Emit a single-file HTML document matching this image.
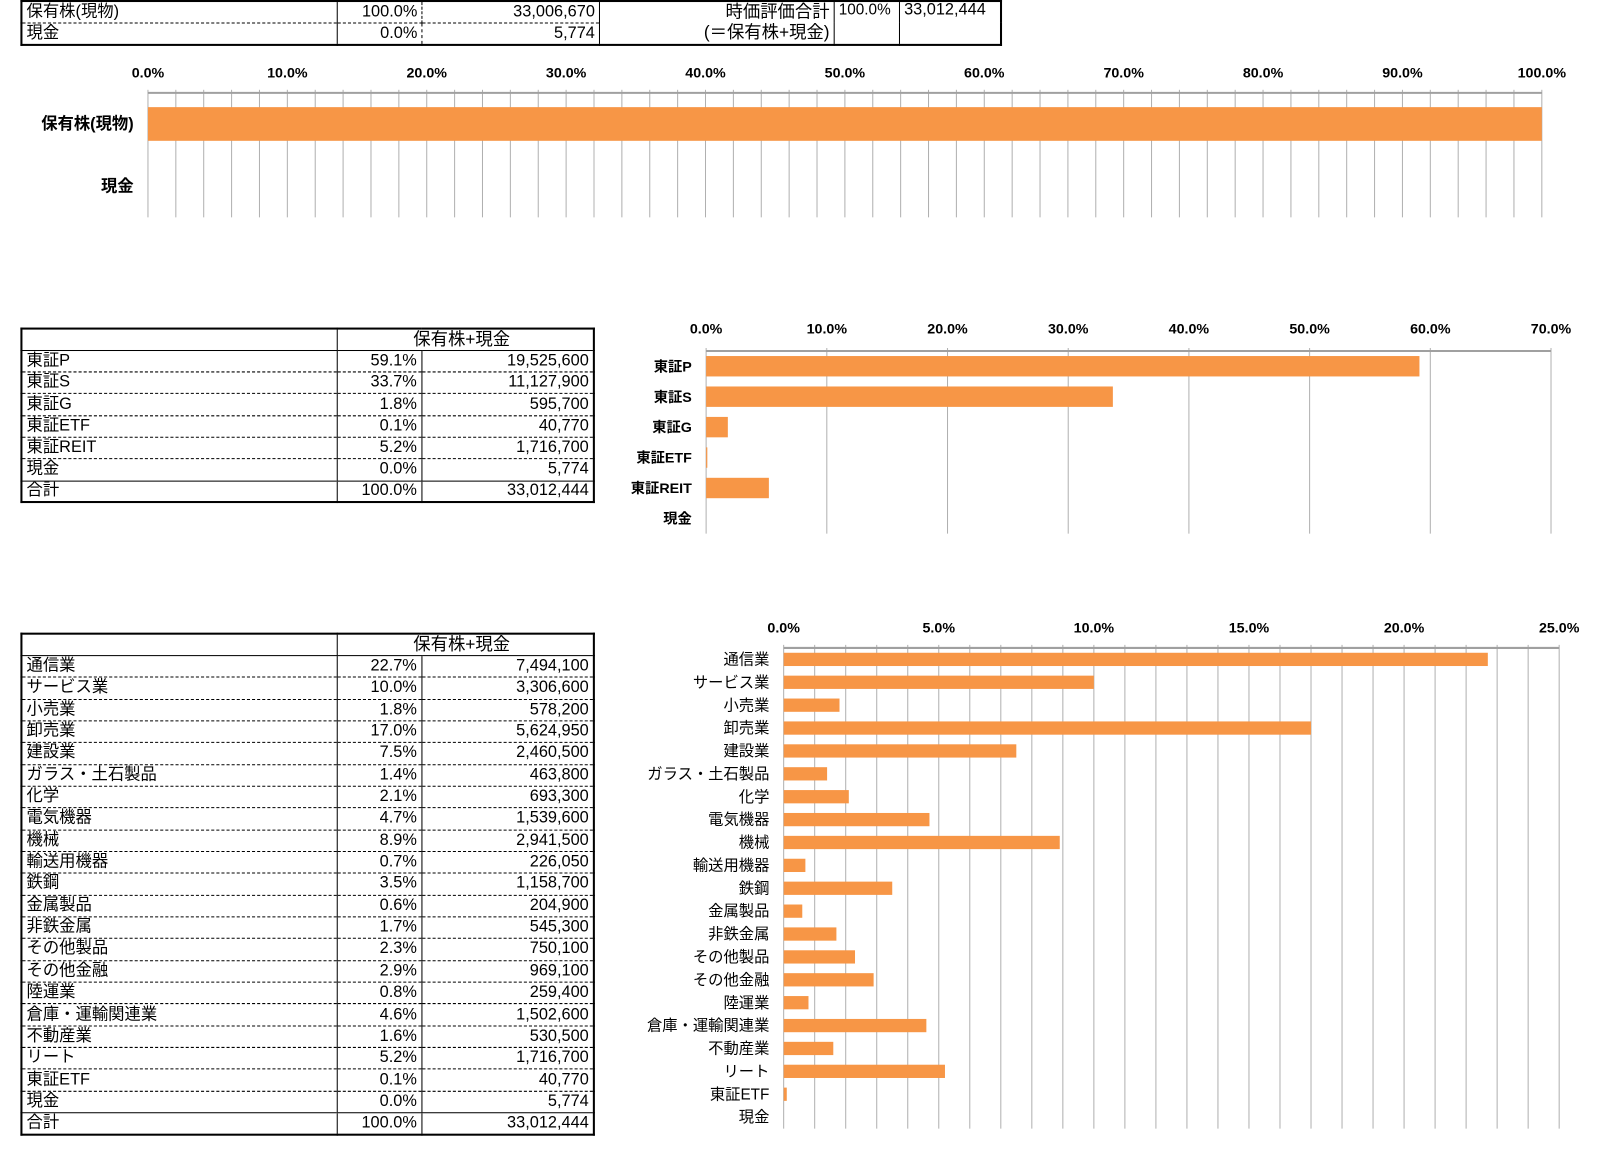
<!DOCTYPE html>
<html><head><meta charset="utf-8">
<style>
body{margin:0;width:1600px;height:1159px;background:#fff;position:relative;overflow:hidden;font-family:"Liberation Sans","Noto Sans CJK JP",sans-serif;}
#wrap{position:absolute;left:0;top:0;width:1568px;height:1136px;transform:scale(1.0204);transform-origin:0 0;}
table{position:absolute;border-collapse:collapse;font-size:16px;color:#000;table-layout:fixed}
td{padding:0 4px;line-height:1;white-space:nowrap;overflow:hidden}
.r{text-align:right}
svg{position:absolute;left:0;top:0}
</style></head><body>
<div id="wrap">
<table style="left:20px;top:0;width:962px;border:2px solid #000">
<tr style="height:19.5px"><td style="width:300px;border-bottom:1px dashed #000">保有株(現物)</td><td class="r" style="width:74px;border-left:1px solid #000;border-right:1px dashed #000;border-bottom:1px dashed #000">100.0%</td><td class="r" style="width:165px;border-bottom:1px dashed #000;border-right:1px solid #000">33,006,670</td><td class="r" rowspan="2" style="width:221px;border-right:1px solid #000;line-height:1.2;font-size:17px">時価評価合計<br>(＝保有株+現金)</td><td style="width:55px;border-right:1px solid #000;vertical-align:top;font-size:15px">100.0%</td><td style="vertical-align:top">33,012,444</td></tr>
<tr style="height:19.5px"><td>現金</td><td class="r" style="border-left:1px solid #000;border-right:1px dashed #000">0.0%</td><td class="r" style="border-right:1px solid #000">5,774</td><td style="border-right:1px solid #000"></td><td></td></tr>
</table>
<div id="t2"></div><div id="t3"></div>
<svg id="chart" width="1568" height="1136"></svg>
</div>
<script>
const c1Cats=["保有株(現物)","現金"];
const c1Vals=[100.0,0.0];
const c1Ticks=["0.0%","10.0%","20.0%","30.0%","40.0%","50.0%","60.0%","70.0%","80.0%","90.0%","100.0%"];
const c2Cats=["東証P","東証S","東証G","東証ETF","東証REIT","現金"];
const c2Vals=[59.1,33.7,1.8,0.1,5.2,0.0];
const c2Amts=["19,525,600","11,127,900","595,700","40,770","1,716,700","5,774"];
const c2Ticks=["0.0%","10.0%","20.0%","30.0%","40.0%","50.0%","60.0%","70.0%"];
const c3Cats=["通信業","サービス業","小売業","卸売業","建設業","ガラス・土石製品","化学","電気機器","機械","輸送用機器","鉄鋼","金属製品","非鉄金属","その他製品","その他金融","陸運業","倉庫・運輸関連業","不動産業","リート","東証ETF","現金"];
const c3Vals=[22.7,10.0,1.8,17.0,7.5,1.4,2.1,4.7,8.9,0.7,3.5,0.6,1.7,2.3,2.9,0.8,4.6,1.6,5.2,0.1,0.0];
const c3Amts=["7,494,100","3,306,600","578,200","5,624,950","2,460,500","463,800","693,300","1,539,600","2,941,500","226,050","1,158,700","204,900","545,300","750,100","969,100","259,400","1,502,600","530,500","1,716,700","40,770","5,774"];
const c3Ticks=["0.0%","5.0%","10.0%","15.0%","20.0%","25.0%"];

function mkTable(id,top,cats,vals,amts,rowH){
  let h='<table style="left:20px;top:'+top+'px;width:563px;border:2px solid #000">';
  h+='<tr style="height:'+rowH+'px"><td style="width:300px;border-bottom:1px solid #000;border-right:1px solid #000"></td><td style="width:74px;border-bottom:1px solid #000"></td><td style="border-bottom:1px solid #000;font-size:17px;text-align:left;padding-left:0;overflow:visible;position:relative;left:-8px">保有株+現金</td></tr>';
  for(let i=0;i<cats.length;i++){
    h+='<tr style="height:'+rowH+'px"><td style="border-bottom:1px dashed #000;border-right:1px solid #000">'+cats[i]+'</td><td class="r" style="border-bottom:1px dashed #000;border-right:1px solid #000">'+vals[i].toFixed(1)+'%</td><td class="r" style="border-bottom:1px dashed #000">'+amts[i]+'</td></tr>';
  }
  h+='<tr style="height:'+rowH+'px"><td style="border-top:1px solid #000;border-right:1px solid #000">合計</td><td class="r" style="border-top:1px solid #000;border-right:1px solid #000">100.0%</td><td class="r" style="border-top:1px solid #000">33,012,444</td></tr></table>';
  document.getElementById(id).outerHTML=h;
}
mkTable('t2',321,c2Cats,c2Vals,c2Amts,21.3);
mkTable('t3',620,c3Cats,c3Vals,c3Amts,21.35);

const svg=document.getElementById('chart');
const NS='http://www.w3.org/2000/svg';
function el(tag,attrs,txt){const e=document.createElementNS(NS,tag);for(const k in attrs)e.setAttribute(k,attrs[k]);if(txt!==undefined)e.textContent=txt;svg.appendChild(e);return e;}

function chart(o){
  const x=v=>o.x0+(o.x1-o.x0)*v/o.max;
  for(let v=0;v<=o.max+1e-9;v+=o.minor){
    const g=el('line',{x1:x(v),x2:x(v),y1:o.top-3,y2:o.bot,stroke:'#b0b0b0','stroke-width':1});
    
    
  }
  el('line',{x1:o.x0,x2:o.x1,y1:o.top,y2:o.top,stroke:'#a0a0a0','stroke-width':2});
  o.ticks.forEach((t,i)=>{
    const tx=el('text',{x:x(i*o.major),y:o.tickY,'text-anchor':'middle','font-size':14,'font-weight':'bold',fill:'#000'},t);
    
    
  });
  const step=(o.bot-o.top)/o.cats.length;
  o.cats.forEach((c,i)=>{
    const cy=o.top+step*(i+0.5);
    const lb=el('text',{x:o.x0-14,y:cy+5,'text-anchor':'end','font-size':o.fs,'font-weight':o.fw,fill:'#000'},c);
    
    
    const b=el('rect',{x:o.x0,y:cy-o.bh/2,width:Math.max(0,x(o.vals[i])-o.x0),height:o.bh,fill:'#F79646'});
    
    
  });
}
chart({x0:145,x1:1511,max:100,minor:2,major:10,top:91,bot:213,tickY:76,cats:c1Cats,vals:c1Vals,ticks:c1Ticks,bh:33,fs:16,fw:'bold'});
chart({x0:692,x1:1520,max:70,minor:10,major:10,top:344,bot:523,tickY:327,cats:c2Cats,vals:c2Vals,ticks:c2Ticks,bh:20,fs:14,fw:'bold'});
chart({x0:768,x1:1528,max:25,minor:1,major:5,top:635,bot:1106,tickY:620,cats:c3Cats,vals:c3Vals,ticks:c3Ticks,bh:13,fs:15,fw:'normal'});
</script>
</body></html>
